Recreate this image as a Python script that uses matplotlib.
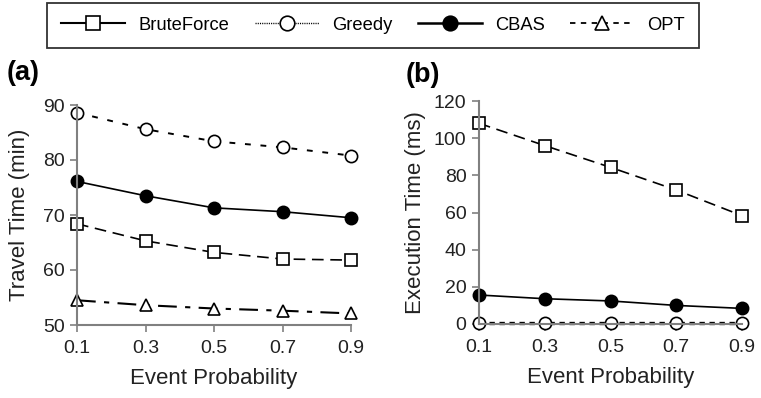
import matplotlib
matplotlib.use("Agg")
import matplotlib.pyplot as plt
from matplotlib.lines import Line2D

plt.rcParams['font.family'] = ['Liberation Sans', 'DejaVu Sans']

x = [0.1, 0.3, 0.5, 0.7, 0.9]
xticklabels = ["0.1", "0.3", "0.5", "0.7", "0.9"]

# Panel (a): Travel Time (min)
travel_bruteforce = [68.4, 65.3, 63.2, 62.0, 61.8]
travel_greedy = [88.6, 85.6, 83.4, 82.3, 80.8]
travel_cbas = [76.1, 73.5, 71.3, 70.6, 69.5]
travel_opt = [54.5, 53.6, 53.0, 52.6, 52.1]

# Panel (b): Execution Time (ms)
exec_bruteforce = [108.0, 96.0, 84.3, 72.1, 58.3]
exec_greedy = [0.8, 0.8, 0.8, 0.8, 0.8]
exec_cbas = [15.6, 13.6, 12.4, 10.0, 8.4]

fig = plt.figure(figsize=(7.61, 3.98), dpi=100)
axa = fig.add_axes([77/761, 1-325/398, (351-77)/761, (325-105)/398])
axb = fig.add_axes([479/761, 1-324/398, (742-479)/761, (324-101)/398])

ms = 8.8
lw = 1.2
base = dict(color='black', mec='black', ms=ms, mew=1.2)
styles = {
    'BruteForce': dict(base, linestyle=(0, (7, 4)), lw=lw, marker='s', mfc='white'),
    'Greedy': dict(base, linestyle=(0, (3, 5)), lw=lw + 0.2, marker='o', mfc='white'),
    'CBAS': dict(base, linestyle='-', lw=lw, marker='o', mfc='black'),
    'OPT': dict(base, linestyle=(0, (9, 4, 2.5, 4)), lw=lw + 0.3, marker='^', mfc='white'),
}

axa.plot(x, travel_greedy, clip_on=False, **styles['Greedy'])
axa.plot(x, travel_cbas, clip_on=False, **styles['CBAS'])
axa.plot(x, travel_bruteforce, clip_on=False, **styles['BruteForce'])
axa.plot(x, travel_opt, clip_on=False, **styles['OPT'])

axb.plot(x, exec_bruteforce, clip_on=False, **styles['BruteForce'])
axb.plot(x, exec_cbas, clip_on=False, **styles['CBAS'])
gs = dict(styles['Greedy'])
gs['linestyle'] = (0, (1.6, 1.4))
gs['lw'] = 2.4
axb.plot(x, exec_greedy, clip_on=False, **gs)

axa.set_ylim(50, 90)
axa.set_yticks([50, 60, 70, 80, 90])
axb.set_ylim(0, 120)
axb.set_yticks([0, 20, 40, 60, 80, 100, 120])

for ax in (axa, axb):
    ax.set_xlim(0.1, 0.9)
    ax.set_xticks(x)
    ax.set_xticklabels(xticklabels)
    for s in ('top', 'right'):
        ax.spines[s].set_visible(False)
    for s in ('left', 'bottom'):
        ax.spines[s].set_color('#808080')
        ax.spines[s].set_linewidth(1.5)
    ax.tick_params(axis='both', colors='#808080', labelcolor='#222222', labelsize=14, length=5, width=1.2, direction='out')
    ax.tick_params(axis='x', pad=6)
    ax.tick_params(axis='y', pad=4)
    ax.set_xlabel('Event Probability', fontsize=16, color='#222222', labelpad=8)

axa.set_ylabel('Travel Time (min)', fontsize=16, color='#222222', labelpad=9)
axb.set_ylabel('Execution Time (ms)', fontsize=16, color='#222222', labelpad=6)

fig.text(7/761, 1-73/398, '(a)', fontsize=19.5, fontweight='bold', va='center', ha='left')
fig.text(406/761, 1-75/398, '(b)', fontsize=19.5, fontweight='bold', va='center', ha='left')

names = ['BruteForce', 'Greedy', 'CBAS', 'OPT']
leg_ls = {'BruteForce': '-', 'Greedy': (0, (0.8, 0.8)), 'CBAS': '-', 'OPT': (0, (3, 3))}
leg_lw = {'BruteForce': 1.5, 'Greedy': 1.0, 'CBAS': 1.8, 'OPT': 1.3}
handles = []
for k in names:
    st = dict(styles[k])
    st['linestyle'] = leg_ls[k]
    st['lw'] = leg_lw[k]
    st['ms'] = 10.5
    handles.append(Line2D([], [], **st))
leg = fig.legend(handles, names, loc='upper center',
                 bbox_to_anchor=(373/761, 1-3/398), ncol=4, frameon=True, fancybox=False,
                 edgecolor='black', fontsize=13.2, handlelength=3.5, columnspacing=1.4,
                 borderpad=0.75, handletextpad=0.7, borderaxespad=0)
leg.get_frame().set_linewidth(1.3)

fig.savefig('out.png', dpi=100)
